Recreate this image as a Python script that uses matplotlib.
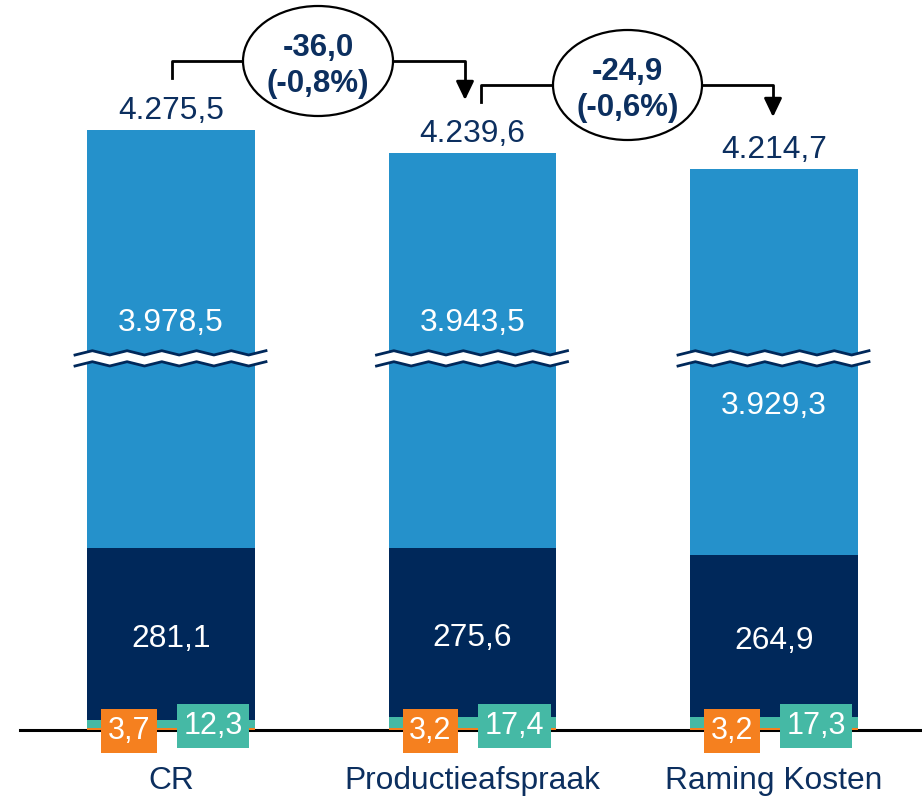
import numpy as np
import matplotlib
matplotlib.use('Agg')
import matplotlib.pyplot as plt
from matplotlib.patches import Ellipse

plt.rcParams['font.family'] = ['Liberation Sans', 'DejaVu Sans']

# data
categories = ['CR', 'Productieafspraak', 'Raming Kosten']
orange_vals = [3.7, 3.2, 3.2]
teal_vals = [12.3, 17.4, 17.3]
dark_vals = [281.1, 275.6, 264.9]
light_vals = [3978.5, 3943.5, 3929.3]
totals = [4275.5, 4239.6, 4214.7]
diffs = [-36.0, -24.9]
diff_pct = [-0.8, -0.6]

LIGHT = '#2591CB'
DARK = '#00285A'
TEAL = '#45B9A5'
ORANGE = '#F5801F'
NAVY_TXT = '#0C2F5F'


def nl(v):
    # dutch number format
    s = f'{v:,.1f}'
    return s.replace(',', 'X').replace('.', ',').replace('X', '.')


# broken y scale: linear bottom, squeezed middle, linear top
A, B = 620.0, 4100.0
S1, S3 = 0.613, 0.64
FA = A * S1
FB = FA + 107.6
xp = np.array([-1e5, 0.0, A, B, 1e5])
fp = np.array([-1e5 * S1, 0.0, FA, FB, FB + S3 * (1e5 - B)])


def fwd(y):
    return np.interp(y, xp, fp)


def inv(f):
    return np.interp(f, fp, xp)


fig = plt.figure(figsize=(9.22, 7.97), dpi=100)
ax = fig.add_axes([0, 67 / 797, 1, 730 / 797])
ax.set_yscale('function', functions=(fwd, inv))
ax.set_ylim(0, B + (730 - FB) / S3)
ax.set_xlim(-171 / 301.5, 751 / 301.5)

x = np.arange(len(categories))
w = 0.557
o = np.array(orange_vals)
t = np.array(teal_vals)
d = np.array(dark_vals)
l = np.array(light_vals)
ax.bar(x, o, w, color=ORANGE, zorder=2)
ax.bar(x, t, w, bottom=o, color=TEAL, zorder=2)
ax.bar(x, d, w, bottom=o + t, color=DARK, zorder=2)
ax.bar(x, l, w, bottom=o + t + d, color=LIGHT, zorder=2)

ax.axhline(0, xmin=20 / 922, color='black', lw=2.2, zorder=1, clip_on=False)

for sp in ax.spines.values():
    sp.set_visible(False)
ax.set_yticks([])
ax.set_xticks(x)
ax.set_xticklabels(categories, fontsize=22.9, color=NAVY_TXT)
ax.tick_params(axis='x', length=0, pad=26)

xt = ax.get_xaxis_transform()


def fr(py):
    # pixel from top of picture -> axes fraction
    return (730 - py) / 730


# break marks
zx = np.linspace(-96, 95, 12) / 301.5
up = np.where(np.arange(12) % 2 == 0, fr(355), fr(350.7))
lo = np.where(np.arange(12) % 2 == 0, fr(366), fr(361.7))
for xi in x:
    ax.fill_between(xi + zx, lo, up, color='white', transform=xt, zorder=3, lw=0)
    ax.plot(xi + zx, up, color=DARK, lw=2, transform=xt, zorder=4)
    ax.plot(xi + zx, lo, color=DARK, lw=2, transform=xt, zorder=4)

# segment labels
light_pos = [fr(323), fr(323), fr(406)]
for i in range(len(categories)):
    ax.text(x[i], light_pos[i], nl(light_vals[i]), transform=xt, ha='center', va='center',
            color='white', fontsize=22.9, zorder=5)
    ax.annotate(nl(dark_vals[i]), (x[i], o[i] + t[i] + d[i] / 2), xytext=(0, -3.5),
                textcoords='offset points', ha='center', va='center',
                color='white', fontsize=22.9, zorder=5)
    ax.annotate(nl(totals[i]), (x[i], totals[i]), xytext=(0, 3), textcoords='offset points',
                ha='center', va='bottom', color=NAVY_TXT, fontsize=22.9)
    ax.text(x[i] - 42 / 301.5, fr(731), nl(orange_vals[i]), transform=xt, ha='center',
            va='center', color='white', fontsize=22, zorder=6,
            bbox=dict(boxstyle='square,pad=0.22', fc=ORANGE, ec='none'))
    ax.text(x[i] + 42 / 301.5, fr(726), nl(teal_vals[i]), transform=xt, ha='center',
            va='center', color='white', fontsize=22, zorder=6,
            bbox=dict(boxstyle='square,pad=0.22', fc=TEAL, ec='none'))

# difference brackets
brackets = [
    dict(x0=172, y0=78, yh=61, x1=465, y1=100, ex=318, ew=150),
    dict(x0=481, y0=102, yh=85, x1=773, y1=117, ex=627.5, ew=149),
]
for k, bk in enumerate(brackets):
    x0 = (bk['x0'] - 171) / 301.5
    x1 = (bk['x1'] - 171) / 301.5
    ax.plot([x0, x0, x1, x1], [fr(bk['y0']), fr(bk['yh']), fr(bk['yh']), fr(bk['y1'] - 12)],
            color='black', lw=2, transform=xt, clip_on=False, zorder=6)
    ax.annotate('', xy=(x1, fr(bk['y1'])), xytext=(x1, fr(bk['y1'] - 15)), xycoords=xt,
                textcoords=xt,
                arrowprops=dict(arrowstyle='-|>,head_length=0.75,head_width=0.36',
                                mutation_scale=15, color='black', lw=2, shrinkA=0, shrinkB=0))
    ex = (bk['ex'] - 171) / 301.5
    ell = Ellipse((ex, fr(bk['yh'])), bk['ew'] / 301.5, 110 / 730, transform=xt,
                  fc='white', ec='black', lw=1.6, zorder=7, clip_on=False)
    ax.add_patch(ell)
    ax.text(ex, fr(bk['yh'] + 5), f'{nl(diffs[k])}\n({nl(diff_pct[k])}%)', transform=xt,
            ha='center', va='center', fontsize=22.5, fontweight='bold', color=NAVY_TXT,
            linespacing=1.25, zorder=8)

fig.savefig('out.png', dpi=100)
